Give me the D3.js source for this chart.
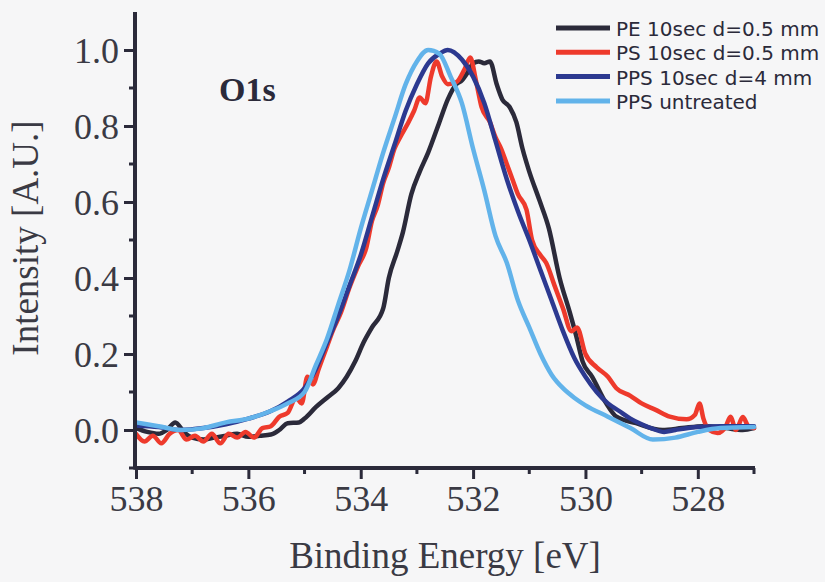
<!DOCTYPE html>
<html>
<head>
<meta charset="utf-8">
<script src="https://cdn.jsdelivr.net/npm/d3@7"></script>
<style>
  html, body { margin: 0; padding: 0; background: #f6f6f7; }
  svg { display: block; }
</style>
</head>
<body>
<svg id="chart" width="825" height="582"></svg>
<script>
// ---------- data ----------
const seriesNames = ["PE 10sec d=0.5 mm", "PS 10sec d=0.5 mm", "PPS 10sec d=4 mm", "PPS untreated"];
const seriesColors = ["#2b2a3a", "#ee3a2c", "#2c3990", "#62b3ea"];

const xTicks = [538, 536, 534, 532, 530, 528];
const yTicks = [0.0, 0.2, 0.4, 0.6, 0.8, 1.0];

const energyPE = [538.0,537.8,537.6,537.45,537.3,537.15,537.0,536.8,536.6,536.4,536.2,536.0,535.8,535.6,535.45,535.3,535.1,535.0,534.8,534.6,534.4,534.25,534.1,533.95,533.8,533.6,533.5,533.35,533.25,533.1,532.95,532.8,532.6,532.45,532.3,532.2,532.1,532.0,531.9,531.8,531.7,531.58,531.48,531.35,531.23,531.12,531.0,530.82,530.65,530.46,530.28,530.16,530.05,529.88,529.63,529.45,529.1,528.63,528.28,527.9,527.5,527.2,527.0];
const intensityPE = [0.005,-0.005,-0.01,0.0,0.02,-0.005,-0.02,-0.025,-0.02,-0.015,-0.01,-0.018,-0.015,-0.012,0.0,0.018,0.02,0.03,0.06,0.085,0.11,0.14,0.18,0.23,0.27,0.32,0.40,0.47,0.52,0.62,0.68,0.73,0.81,0.87,0.91,0.92,0.94,0.965,0.97,0.965,0.97,0.91,0.87,0.85,0.81,0.74,0.68,0.605,0.53,0.40,0.31,0.245,0.18,0.14,0.07,0.035,0.018,0.0,0.005,0.01,0.005,0.0,0.005];

const energyPS = [538.0,537.85,537.7,537.55,537.4,537.25,537.1,536.95,536.8,536.65,536.5,536.35,536.2,536.05,535.9,535.75,535.6,535.45,535.3,535.15,535.05,534.95,534.85,534.75,534.6,534.5,534.35,534.2,534.05,533.9,533.8,533.7,533.6,533.5,533.4,533.3,533.15,533.05,532.95,532.85,532.75,532.65,532.55,532.45,532.3,532.15,532.05,531.95,531.85,531.7,531.6,531.5,531.4,531.3,531.2,531.05,530.95,530.8,530.7,530.55,530.4,530.25,530.15,530.0,529.8,529.6,529.45,529.2,529.0,528.75,528.5,528.2,528.05,527.97,527.9,527.8,527.65,527.5,527.42,527.32,527.2,527.1,527.0];
const intensityPS = [-0.01,-0.03,-0.015,-0.035,-0.01,0.0,-0.025,-0.015,-0.03,-0.01,-0.035,-0.01,-0.02,-0.005,-0.02,0.005,0.01,0.035,0.045,0.085,0.07,0.14,0.12,0.16,0.22,0.26,0.31,0.375,0.43,0.48,0.55,0.59,0.65,0.69,0.74,0.77,0.81,0.84,0.875,0.86,0.93,0.97,0.93,0.91,0.915,0.95,0.98,0.92,0.85,0.81,0.77,0.74,0.70,0.66,0.62,0.58,0.50,0.46,0.44,0.38,0.32,0.26,0.27,0.20,0.165,0.14,0.11,0.09,0.07,0.053,0.035,0.028,0.04,0.07,0.03,0.0,-0.008,0.01,0.035,0.0,0.034,0.01,0.005];

const energyPPS4 = [538.0,537.6,537.2,536.8,536.4,536.0,535.6,535.3,535.0,534.8,534.6,534.4,534.2,534.0,533.8,533.6,533.4,533.2,533.0,532.8,532.6,532.45,532.2,532.0,531.8,531.6,531.4,531.2,531.0,530.8,530.6,530.4,530.2,530.0,529.8,529.6,529.4,529.2,529.0,528.8,528.6,528.4,528.0,527.6,527.0];
const intensityPPS4 = [0.012,0.008,0.0,0.005,0.015,0.03,0.05,0.075,0.11,0.16,0.23,0.30,0.38,0.46,0.56,0.66,0.75,0.84,0.91,0.965,0.99,1.0,0.975,0.93,0.86,0.76,0.66,0.575,0.50,0.42,0.34,0.26,0.19,0.14,0.10,0.07,0.05,0.03,0.015,0.003,-0.005,0.0,0.008,0.01,0.01];

const energyPPSu = [538.0,537.6,537.2,536.8,536.4,536.0,535.6,535.3,535.0,534.8,534.6,534.4,534.2,534.0,533.8,533.6,533.4,533.2,533.0,532.8,532.6,532.4,532.2,532.0,531.8,531.6,531.4,531.2,531.0,530.8,530.6,530.4,530.2,530.0,529.6,529.2,528.8,528.4,528.0,527.6,527.0];
const intensityPPSu = [0.02,0.01,0.0,0.005,0.02,0.03,0.05,0.07,0.10,0.17,0.24,0.33,0.42,0.53,0.63,0.73,0.82,0.91,0.97,1.0,0.99,0.93,0.86,0.74,0.63,0.51,0.44,0.34,0.27,0.20,0.145,0.11,0.085,0.065,0.035,0.005,-0.025,-0.02,-0.005,0.005,0.008];

const seriesEnergy = [energyPE, energyPS, energyPPS4, energyPPSu];
const seriesIntensity = [intensityPE, intensityPS, intensityPPS4, intensityPPSu];

// ---------- drawing ----------
const svg = d3.select("#chart");
const axisColor = "#2b2a3a";

const x = d3.scaleLinear().domain([538, 527]).range([136, 754]);
const y = d3.scaleLinear().domain([-0.1, 1.1]).range([468, 12]);

// lines
const line = d3.line()
  .x(d => x(d[0]))
  .y(d => y(d[1]))
  .curve(d3.curveMonotoneX);

seriesEnergy.forEach((en, i) => {
  const pts = en.map((e, j) => [e, seriesIntensity[i][j]]);
  svg.append("path")
    .datum(pts)
    .attr("d", line)
    .attr("fill", "none")
    .attr("stroke", seriesColors[i])
    .attr("stroke-width", 4.5)
    .attr("stroke-linejoin", "round")
    .attr("stroke-linecap", "round");
});

// minor ticks
const minorX = d3.range(537, 526.5, -2);
const minorY = [-0.1, 0.1, 0.3, 0.5, 0.7, 0.9];

const gx = svg.append("g").attr("transform", "translate(0,468)");
gx.call(d3.axisBottom(x).tickValues(xTicks).tickSize(11).tickSizeOuter(0).tickFormat(d3.format("d")));
gx.selectAll(".tick").filter((d,i,n) => false);
gx.append("g").selectAll("line").data(minorX).join("line")
  .attr("x1", d => x(d)).attr("x2", d => x(d)).attr("y1", 0).attr("y2", 6)
  .attr("stroke", axisColor).attr("stroke-width", 3);
gx.select(".domain").attr("d", `M${x(538) - 1.5},0H${x(527) + 1}`);

const gy = svg.append("g").attr("transform", "translate(135,0)");
gy.call(d3.axisLeft(y).tickValues(yTicks).tickSize(11).tickSizeOuter(0).tickFormat(d3.format(".1f")));
gy.append("g").selectAll("line").data(minorY).join("line")
  .attr("y1", d => y(d)).attr("y2", d => y(d)).attr("x1", 0).attr("x2", -6)
  .attr("stroke", axisColor).attr("stroke-width", 3);
gy.select(".domain").attr("d", `M0,${y(1.1)}V${y(-0.1) + 1.5}`);

[gx, gy].forEach(g => {
  g.select(".domain").attr("stroke", axisColor).attr("stroke-width", 4);
  g.selectAll(".tick line").attr("stroke", axisColor).attr("stroke-width", 3);
  g.selectAll(".tick text")
    .attr("fill", "#3a3a44")
    .style("font-family", "'Liberation Serif', 'Times New Roman', serif")
    .style("font-size", "36px");
});
gx.selectAll(".tick text").attr("y", 17).attr("dy", "0.71em");
gy.selectAll(".tick text").attr("x", -16).attr("dy", "0.34em");

// axis titles
svg.append("text")
  .attr("x", 445).attr("y", 568)
  .attr("text-anchor", "middle")
  .attr("fill", "#3a3a44")
  .style("font-family", "'Liberation Serif', 'Times New Roman', serif")
  .style("font-size", "37px")
  .text("Binding Energy [eV]");

svg.append("text")
  .attr("transform", "translate(38,238) rotate(-90)")
  .attr("text-anchor", "middle")
  .attr("fill", "#3a3a44")
  .style("font-family", "'Liberation Serif', 'Times New Roman', serif")
  .style("font-size", "37px")
  .text("Intensity [A.U.]");

// O1s label
svg.append("text")
  .attr("x", 219).attr("y", 101)
  .attr("fill", "#2b2a3a")
  .style("font-family", "'Liberation Serif', 'Times New Roman', serif")
  .style("font-weight", "bold")
  .style("font-size", "34px")
  .text("O1s");

// legend
const legend = svg.append("g");
seriesNames.forEach((name, i) => {
  const by = 36 + i * 24.3;
  legend.append("line")
    .attr("x1", 556).attr("x2", 610)
    .attr("y1", by - 8).attr("y2", by - 8)
    .attr("stroke", seriesColors[i]).attr("stroke-width", 5);
  legend.append("text")
    .attr("x", 616).attr("y", by)
    .attr("fill", "#2b2a3a")
    .style("font-family", "'DejaVu Sans', sans-serif")
    .style("font-size", "20px")
    .text(name);
});
</script>
</body>
</html>
